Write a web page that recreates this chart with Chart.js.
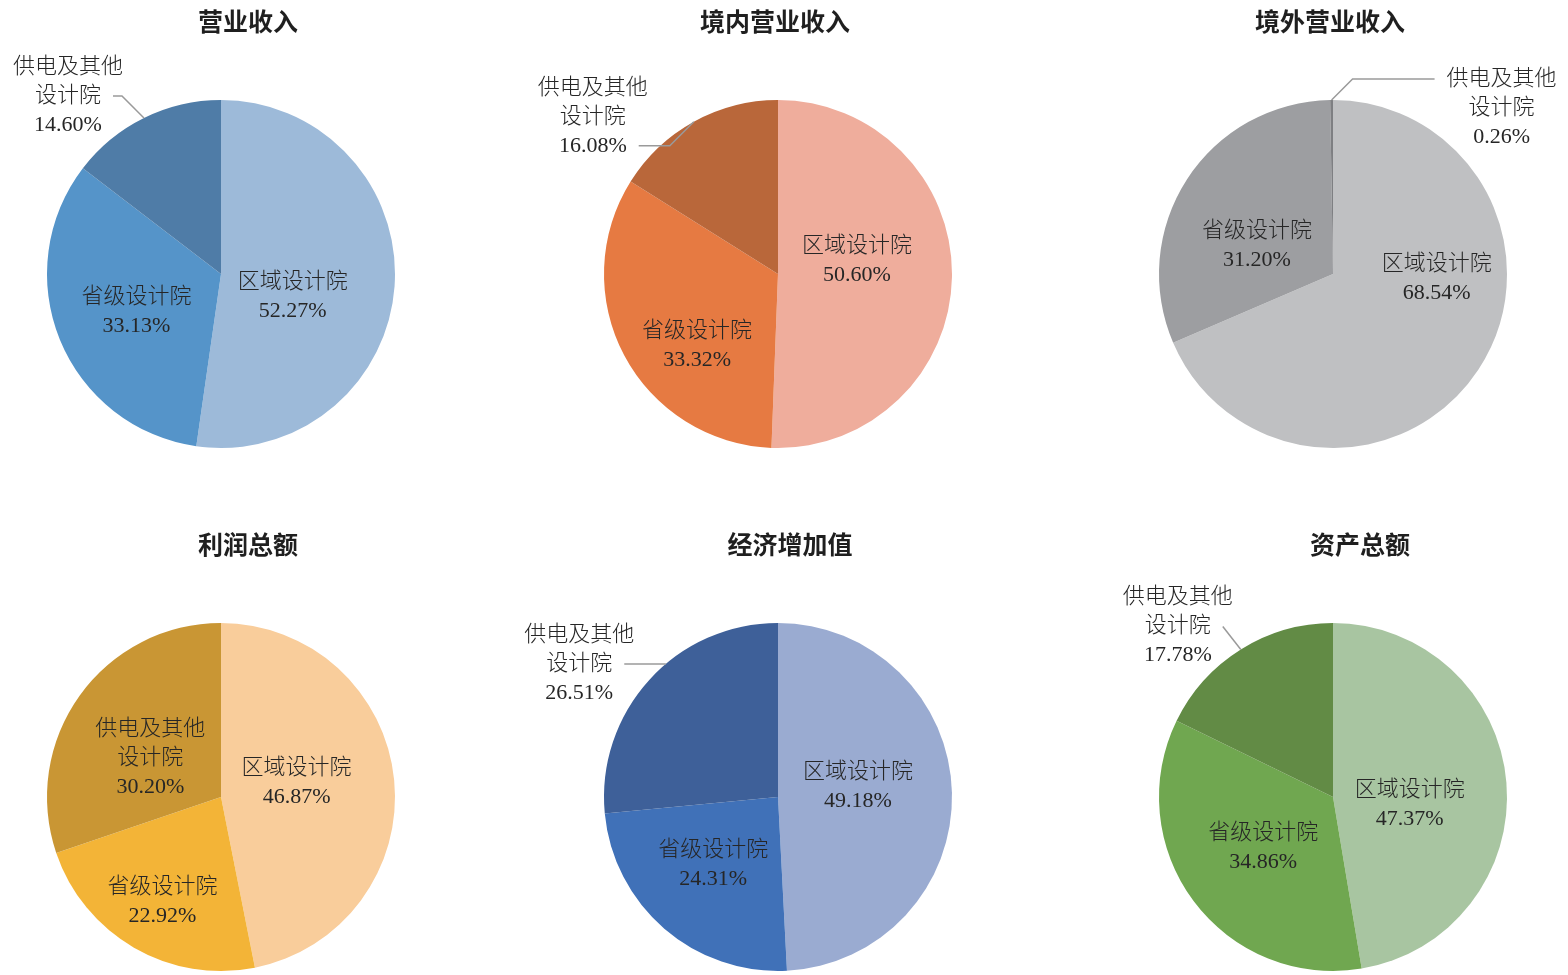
<!DOCTYPE html>
<html>
<head>
<meta charset="utf-8">
<script src="https://cdn.jsdelivr.net/npm/chart.js@4.4.1/dist/chart.umd.min.js"></script>
<style>
html, body { margin: 0; padding: 0; background: #fff; width: 1568px; height: 975px; overflow: hidden; position: relative; }
canvas { position: absolute; }
</style>
</head>
<body>
<script>
// data
const categories = ['区域设计院', '省级设计院', '供电及其他设计院'];
const chartTitles = ['营业收入', '境内营业收入', '境外营业收入', '利润总额', '经济增加值', '资产总额'];
const revenue = [52.27, 33.13, 14.60];
const domesticRevenue = [50.60, 33.32, 16.08];
const overseasRevenue = [68.54, 31.20, 0.26];
const totalProfit = [46.87, 22.92, 30.20];
const economicValueAdded = [49.18, 24.31, 26.51];
const totalAssets = [47.37, 34.86, 17.78];

const LABEL_FONT = '300 22px "Liberation Serif", "Noto Sans CJK SC"';
const TITLE_FONT = 'bold 25px "Noto Sans CJK SC"';
const LINE_H = 29;
const RADIUS = 174;
const PAD = 100;

// layout / style for each panel (centre of pie, label tweaks)
const panels = [
    { title: chartTitles[0], data: revenue, cx: 221, cy: 274, titleDx: 27,
      colors: ['#9DBAD9', '#5594C9', '#4F7CA7'],
      nudges: [[-15, 17], [-4, 5]], callout: { index: 2, dx: -76, dy: -22, line: 1 } },
    { title: chartTitles[1], data: domesticRevenue, cx: 778, cy: 274, titleDx: -3,
      colors: ['#EFAD9C', '#E67A42', '#B9673A'],
      nudges: [[-8, -15], [-4, 31]], callout: { index: 2, dx: -101, dy: -5, line: 2 } },
    { title: chartTitles[2], data: overseasRevenue, cx: 1333, cy: 274, titleDx: -3,
      colors: ['#BFC0C2', '#9D9EA1', '#7E7F82'],
      nudges: [[31, -43], [-3, 19]], callout: { index: 2, dx: 170, dy: 8, line: 0 } },
    { title: chartTitles[3], data: totalProfit, cx: 221, cy: 797, titleDx: 27,
      colors: ['#F9CD9B', '#F3B437', '#C99634'],
      nudges: [[-11, -6], [-15, 29], [0, 12]], callout: null },
    { title: chartTitles[4], data: economicValueAdded, cx: 778, cy: 797, titleDx: 12,
      colors: ['#9AABD1', '#4071B8', '#3E6099'],
      nudges: [[-7, -8], [-8, 2]], callout: { index: 2, dx: -70, dy: -16, line: 1 } },
    { title: chartTitles[5], data: totalAssets, cx: 1333, cy: 797, titleDx: 27,
      colors: ['#A8C5A1', '#70A750', '#628B45'],
      nudges: [[-10, 15], [0, -1]], callout: { index: 2, dx: -63, dy: -23, line: 1 } }
];

function splitName(name) {
    const out = [];
    for (let i = 0; i < name.length; i += 5) out.push(name.slice(i, i + 5));
    return out;
}

const sliceLabels = {
    id: 'sliceLabels',
    afterDatasetsDraw(chart, args, opts) {
        const ctx = chart.ctx;
        const meta = chart.getDatasetMeta(0);
        const values = chart.data.datasets[0].data;
        let cx = 0, cy = 0;
        ctx.save();
        ctx.textAlign = 'center';
        ctx.textBaseline = 'middle';
        meta.data.forEach((arc, i) => {
            const { x, y, startAngle, endAngle, outerRadius } =
                arc.getProps(['x', 'y', 'startAngle', 'endAngle', 'outerRadius'], true);
            cx = x; cy = y;
            const mid = (startAngle + endAngle) / 2;
            const lines = splitName(chart.data.labels[i]).concat(values[i].toFixed(2) + '%');
            const co = opts.callout;
            ctx.font = LABEL_FONT;
            let px, py;
            if (co && co.index === i) {
                // label outside with a leader line
                const ax = x + Math.cos(mid) * outerRadius;
                const ay = y + Math.sin(mid) * outerRadius;
                px = ax + co.dx;
                py = ay + co.dy;
                const ly = py + (co.line - (lines.length - 1) / 2) * LINE_H;
                const side = co.dx < 0 ? -1 : 1;
                const w = ctx.measureText(lines[co.line]).width;
                const sx = px - side * (w / 2 + 12);
                ctx.strokeStyle = '#9a9a9a';
                ctx.lineWidth = 1.5;
                ctx.beginPath();
                ctx.moveTo(sx, ly);
                let straight = false;
                const dy = ly - y;
                if (Math.abs(dy) < outerRadius) {
                    const ix = x + side * Math.sqrt(outerRadius * outerRadius - dy * dy);
                    const ang = Math.atan2(dy, ix - x);
                    const diff = Math.abs(((ang - mid) % (2 * Math.PI) + 3 * Math.PI) % (2 * Math.PI) - Math.PI);
                    if (diff < 12 * Math.PI / 180) {
                        ctx.lineTo(ix, ly);
                        straight = true;
                    }
                }
                if (!straight) {
                    let ex = ax + side * Math.abs(ay - ly);
                    ex = side < 0 ? Math.max(ex, sx) : Math.min(ex, sx);
                    ctx.lineTo(ex, ly);
                    ctx.lineTo(ax, ay);
                }
                ctx.stroke();
            } else {
                const n = (opts.nudges && opts.nudges[i]) || [0, 0];
                px = x + Math.cos(mid) * outerRadius * 0.5 + n[0];
                py = y + Math.sin(mid) * outerRadius * 0.5 + n[1];
            }
            ctx.fillStyle = '#262626';
            lines.forEach((t, k) => ctx.fillText(t, px, py + (k - (lines.length - 1) / 2) * LINE_H));
        });
        // title
        ctx.font = TITLE_FONT;
        ctx.fillStyle = '#1f1f1f';
        ctx.fillText(opts.title, cx + opts.titleDx, cy - 253);
        ctx.restore();
    }
};

panels.forEach(p => {
    const size = 2 * (RADIUS + PAD);
    const cv = document.createElement('canvas');
    cv.width = size;
    cv.height = size;
    cv.style.left = (p.cx - size / 2) + 'px';
    cv.style.top = (p.cy - size / 2) + 'px';
    document.body.appendChild(cv);
    new Chart(cv.getContext('2d'), {
        type: 'pie',
        data: {
            labels: categories,
            datasets: [{
                data: p.data,
                backgroundColor: p.colors,
                borderWidth: 0,
                hoverOffset: 0,
                radius: RADIUS
            }]
        },
        options: {
            responsive: false,
            animation: false,
            events: [],
            layout: { padding: PAD },
            plugins: {
                legend: { display: false },
                tooltip: { enabled: false },
                title: { display: false },
                sliceLabels: {
                    title: p.title,
                    titleDx: p.titleDx,
                    nudges: p.nudges,
                    callout: p.callout
                }
            }
        },
        plugins: [sliceLabels]
    });
});
</script>
</body>
</html>
